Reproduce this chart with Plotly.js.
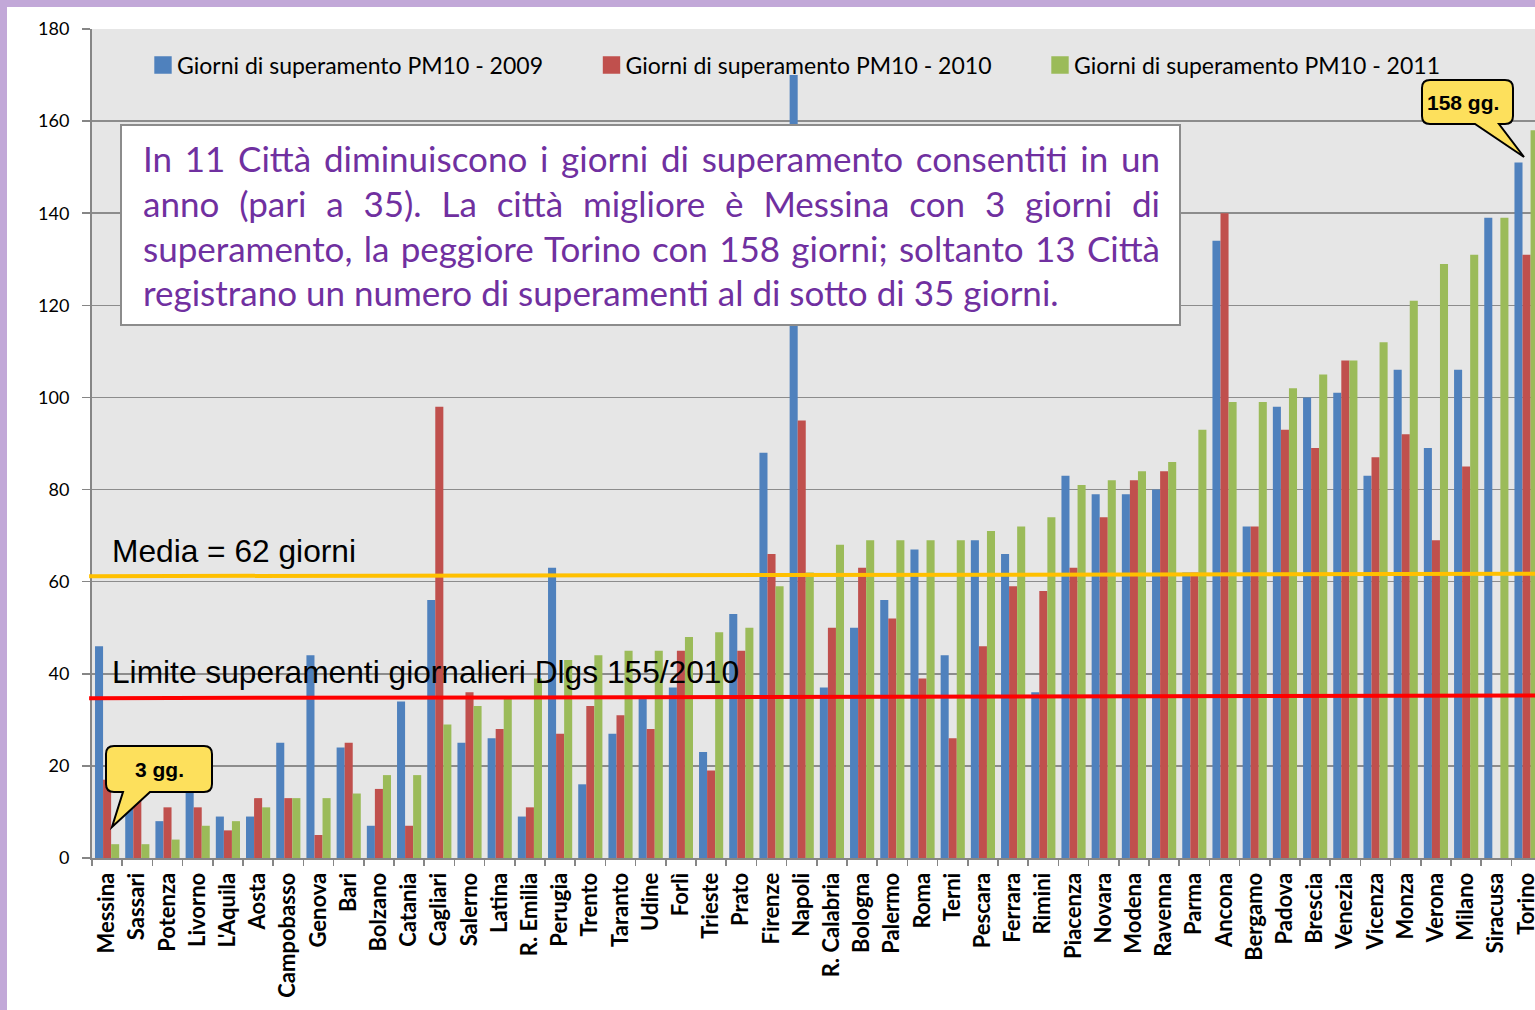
<!DOCTYPE html>
<html>
<head>
<meta charset="utf-8">
<script src="https://cdn.plot.ly/plotly-3.0.1.min.js"></script>
<style>
  html, body { margin: 0; padding: 0; overflow: hidden; background: #C2A8D8; width: 1535px; height: 1010px; }
  #chart { position: absolute; left: 7px; top: 7px; width: 1528px; height: 1003px; background: #fff; }
</style>
</head>
<body>
<div id="chart"></div>
<script>
const cities = ["Messina","Sassari","Potenza","Livorno","L'Aquila","Aosta","Campobasso","Genova","Bari","Bolzano",
  "Catania","Cagliari","Salerno","Latina","R. Emilia","Perugia","Trento","Taranto","Udine","Forlì",
  "Trieste","Prato","Firenze","Napoli","R. Calabria","Bologna","Palermo","Roma","Terni","Pescara",
  "Ferrara","Rimini","Piacenza","Novara","Modena","Ravenna","Parma","Ancona","Bergamo","Padova",
  "Brescia","Venezia","Vicenza","Monza","Verona","Milano","Siracusa","Torino"];

const giorni2009 = [46,12,8,16,9,9,25,44,24,7, 34,56,25,26,9,63,16,27,35,37, 23,53,88,170,37,50,56,67,44,69,
  66,36,83,79,79,80,62,134,72,98, 100,101,83,106,89,106,139,151];
const giorni2010 = [17,15,11,11,6,13,13,5,25,15, 7,98,36,28,11,27,33,31,28,45, 19,45,66,95,50,63,52,39,26,46,
  59,58,63,74,82,84,62,140,72,93, 89,108,87,92,69,85,null,131];
const giorni2011 = [3,3,4,7,8,11,13,13,14,18, 18,29,33,35,39,43,44,45,45,48, 49,50,59,62,68,69,69,69,69,71,
  72,74,81,82,84,86,93,99,99,102, 105,108,112,121,129,131,139,158];

const seriesNames = ["Giorni di superamento PM10 - 2009","Giorni di superamento PM10 - 2010","Giorni di superamento PM10 - 2011"];
const seriesColors = ["#4F81BD","#C0504D","#9BBB59"];

// reference lines as drawn (left end, right end)
const mediaLine = [61.2, 61.7];
const limiteLine = [34.7, 35.3];

const boxLines = [
  "In 11 Città diminuiscono i giorni di superamento consentiti in un",
  "anno (pari a 35). La città migliore è Messina con 3 giorni di",
  "superamento, la peggiore Torino con 158 giorni; soltanto 13 Città",
  "registrano un numero di superamenti al di sotto di 35 giorni."
];

// page pixel -> paper coordinates (plot area spans x 92..1535, y 29..858 on the page)
const PL = 92, PB = 858, PW = 1443, PH = 829;
const px = (x) => (x - PL) / PW;
const py = (y) => (PB - y) / PH;

function calloutPath(x0, y0, x1, y1, ta, tb, tipx, tipy, r) {
  const P = (x, y) => px(x).toFixed(5) + "," + py(y).toFixed(5);
  return "M" + P(x0 + r, y0) +
    " L" + P(x1 - r, y0) + " Q" + P(x1, y0) + " " + P(x1, y0 + r) +
    " L" + P(x1, y1 - r) + " Q" + P(x1, y1) + " " + P(x1 - r, y1) +
    " L" + P(tb, y1) + " L" + P(tipx, tipy) + " L" + P(ta, y1) +
    " L" + P(x0 + r, y1) + " Q" + P(x0, y1) + " " + P(x0, y1 - r) +
    " L" + P(x0, y0 + r) + " Q" + P(x0, y0) + " " + P(x0 + r, y0) + " Z";
}

const data = [giorni2009, giorni2010, giorni2011].map((vals, i) => ({
  type: "bar",
  x: cities,
  y: vals,
  name: seriesNames[i],
  marker: { color: seriesColors[i], line: { width: 0 } },
  hoverinfo: "x+y"
}));

const shapes = [
  { type: "line", xref: "paper", yref: "y", x0: -0.002, x1: 1, y0: mediaLine[0], y1: mediaLine[1],
    line: { color: "#FFC000", width: 4 }, layer: "above" },
  { type: "line", xref: "paper", yref: "y", x0: -0.002, x1: 1, y0: limiteLine[0], y1: limiteLine[1],
    line: { color: "#FF0000", width: 4 }, layer: "above" },
  { type: "rect", xref: "paper", yref: "paper", x0: px(121), x1: px(1180), y0: py(325), y1: py(125),
    fillcolor: "#FFFFFF", line: { color: "#8C8C8C", width: 2 }, layer: "above" },
  { type: "path", xref: "paper", yref: "paper", path: calloutPath(106, 746, 212, 792, 123, 150, 112, 827, 8),
    fillcolor: "#FDE05C", line: { color: "#000000", width: 2 }, layer: "above" },
  { type: "path", xref: "paper", yref: "paper", path: calloutPath(1422, 80, 1513, 124, 1475, 1499, 1524, 157, 8),
    fillcolor: "#FDE05C", line: { color: "#000000", width: 2 }, layer: "above" }
];

const boxY = [158, 203, 248, 292];
const annotations = boxLines.map((t, i) => ({
  xref: "paper", yref: "paper", x: px(141), y: py(boxY[i]), xanchor: "left", yanchor: "middle",
  text: t, showarrow: false, font: { family: "Lato", size: 35, color: "#7030A0" }
})).concat([
  { xref: "paper", yref: "paper", x: px(110), y: py(551), xanchor: "left", yanchor: "middle",
    text: "Media = 62 giorni", showarrow: false,
    font: { family: "Liberation Sans, Arial", size: 31.7, color: "#000" } },
  { xref: "paper", yref: "paper", x: px(110), y: py(672), xanchor: "left", yanchor: "middle",
    text: "Limite superamenti giornalieri Dlgs 155/2010", showarrow: false,
    font: { family: "Liberation Sans, Arial", size: 31.7, color: "#000" } },
  { xref: "paper", yref: "paper", x: px(159), y: py(769), xanchor: "center", yanchor: "middle",
    text: "<b>3 gg.</b>", showarrow: false,
    font: { family: "Liberation Sans, Arial", size: 21, color: "#000" } },
  { xref: "paper", yref: "paper", x: px(1463), y: py(103), xanchor: "center", yanchor: "middle",
    text: "<b>158 gg.</b>", showarrow: false,
    font: { family: "Liberation Sans, Arial", size: 21, color: "#000" } }
]);

const layout = {
  width: 1528, height: 1003,
  margin: { l: 85, r: 0, t: 22, b: 152, pad: 0 },
  paper_bgcolor: "#FFFFFF",
  plot_bgcolor: "#E6E6E6",
  font: { family: "Lato", color: "#000" },
  barmode: "group",
  bargap: 0.2,
  bargroupgap: 0,
  showlegend: true,
  legend: {
    orientation: "h", xref: "paper", yref: "paper",
    x: px(137), y: py(65), xanchor: "left", yanchor: "middle",
    font: { family: "Lato", size: 23, color: "#000" },
    bgcolor: "rgba(0,0,0,0)", borderwidth: 0,
    entrywidth: 403.5, entrywidthmode: "pixels"
  },
  xaxis: {
    type: "category",
    range: [-0.5, 47.28],
    tickson: "boundaries",
    ticks: "outside", ticklen: 6, tickcolor: "#868686", tickwidth: 1.5,
    showline: true, linecolor: "#868686", linewidth: 2,
    showgrid: false,
    tickangle: -90,
    ticklabelstandoff: 4,
    tickfont: { family: "Lato", size: 22, weight: "bold", color: "#000" },
    fixedrange: true
  },
  yaxis: {
    range: [0, 180], dtick: 20, tick0: 0,
    showgrid: true, gridcolor: "#8C8C8C", gridwidth: 1.5,
    zeroline: false,
    showline: true, linecolor: "#868686", linewidth: 2,
    ticks: "outside", ticklen: 8, tickcolor: "#868686", tickwidth: 1.5,
    ticklabelstandoff: 9,
    tickfont: { family: "Lato", size: 18, color: "#000" },
    fixedrange: true
  },
  shapes: shapes,
  annotations: annotations
};

Plotly.newPlot("chart", data, layout, { displayModeBar: false, staticPlot: true }).then(() => {
  // justify the first three lines of the text box to its inner width, keeping the left edge fixed
  const target = 1158 - 141;
  document.querySelectorAll("text.annotation-text").forEach((el) => {
    const idx = boxLines.indexOf(el.textContent);
    if (idx >= 0 && idx < 3) {
      const before = el.getBBox();
      const len = el.getComputedTextLength();
      const spaces = (el.textContent.match(/ /g) || []).length;
      if (spaces > 0 && len < target) {
        el.style.wordSpacing = ((target - len) / spaces).toFixed(2) + "px";
        const after = el.getBBox();
        const x = parseFloat(el.getAttribute("x") || "0");
        el.setAttribute("x", (x + (before.x - after.x)).toFixed(2));
      }
    }
  });
  // slightly larger legend swatches placed closer to their text, as in the original
  document.querySelectorAll(".legendpoints path").forEach((p) => {
    p.setAttribute("transform", "translate(26,0) scale(1.45)");
  });
});
</script>
</body>
</html>
